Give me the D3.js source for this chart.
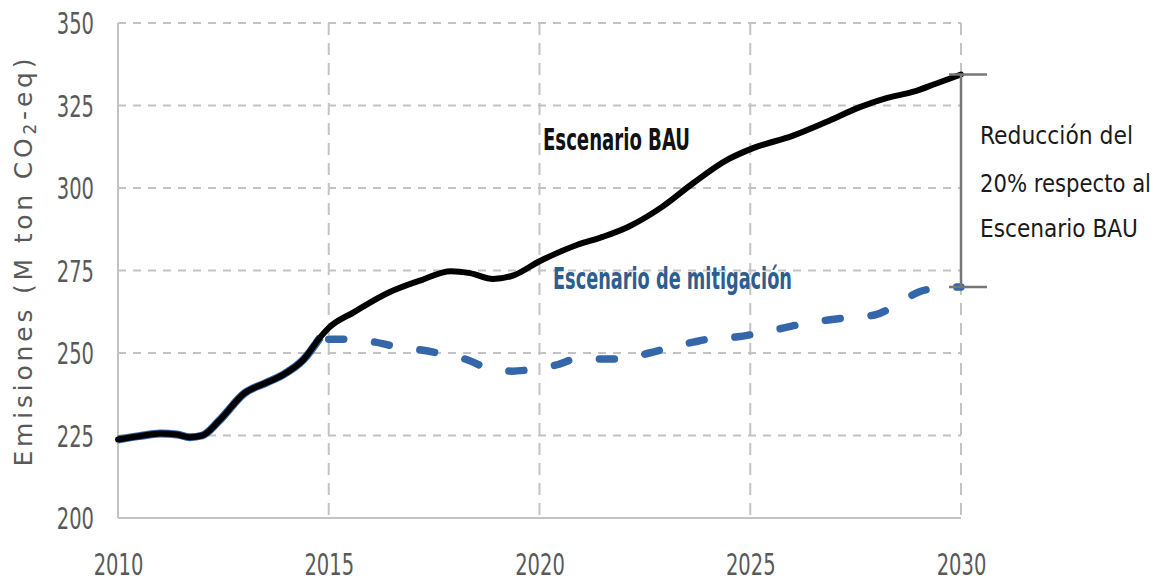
<!DOCTYPE html>
<meta charset="utf-8">
<script src="https://d3js.org/d3.v7.min.js"></script>
<title>Emisiones</title>
<style>
  body { margin: 0; background: white; }
  .narrow { font-family: "Liberation Sans Narrow", "Arial Narrow", "DejaVu Sans Condensed", sans-serif; }
  .grid line { stroke: #c3c3c3; stroke-width: 2; }
</style>
<body>
<div id="chart"></div>
<script>
// BAU scenario (M ton CO2-eq)
var bauYears  = [2010, 2010.5, 2011, 2011.4, 2011.7, 2012, 2012.4, 2013, 2013.5, 2013.9, 2014.4, 2014.8,
                 2015, 2015.6, 2016.4, 2017.2, 2017.9, 2018.35, 2018.9, 2019.4, 2020, 2020.9, 2021.5,
                 2022.1, 2022.9, 2023.65, 2024.45, 2025.05, 2026, 2026.8, 2027.6, 2028.25, 2028.85, 2029.4, 2030];
var bauValues = [223.8, 224.8, 225.6, 225.3, 224.5, 225.0, 229.5, 237.8, 240.9, 243.3, 248.0, 254.8,
                 257.6, 262.4, 268.2, 272.1, 274.8, 274.2, 272.4, 273.6, 277.8, 282.8, 285.2,
                 288.2, 294.2, 301.5, 308.5, 312.0, 315.8, 320.0, 324.5, 327.3, 329.1, 331.6, 334.4];

// mitigation scenario after it splits from BAU
var mitYears  = [2015, 2015.5, 2016.1, 2016.6, 2017.2, 2017.7, 2018.3, 2018.75, 2019.35, 2019.8, 2020.4,
                 2020.95, 2021.5, 2022, 2022.6, 2023.05, 2023.65, 2024.15, 2024.7, 2025.2, 2025.8, 2026.3,
                 2026.85, 2027.35, 2027.95, 2028.45, 2029, 2029.5, 2030];
var mitValues = [254.2, 254.2, 253.3, 251.9, 250.9, 249.7, 247.9, 245.5, 244.5, 245.0, 246.4,
                 248.4, 248.2, 248.2, 250.0, 251.5, 253.3, 254.5, 254.9, 256.0, 257.6, 259.0,
                 260.0, 260.8, 261.5, 264.5, 268.5, 269.7, 270.0];
var mitSplitYear = 2014.8;   // mitigation follows BAU up to here

var xTicks = [2010, 2015, 2020, 2025, 2030];
var yTicks = [200, 225, 250, 275, 300, 325, 350];

var annotationLines = ["Reducción del", "20% respecto al", "Escenario BAU"];

var W = 1167, H = 582;
var margin = {top: 23, right: 206, bottom: 64, left: 118},
    width = W - margin.left - margin.right,
    height = H - margin.top - margin.bottom;

var svg = d3.select("#chart").append("svg")
    .attr("width", W).attr("height", H)
  .append("g")
    .attr("transform", "translate(" + margin.left + "," + margin.top + ")");

var x = d3.scaleLinear().domain([2010, 2030]).range([0, width]);
var y = d3.scaleLinear().domain([200, 350]).range([height, 0]);

// gridlines
svg.append("g").attr("class", "grid")
  .selectAll("line").data(yTicks.slice(1)).enter().append("line")
    .attr("x1", 0).attr("x2", width)
    .attr("y1", function(d) { return y(d); }).attr("y2", function(d) { return y(d); })
    .attr("stroke-dasharray", "8,7");
svg.append("g").attr("class", "grid")
  .selectAll("line").data(xTicks.slice(1)).enter().append("line")
    .attr("y1", 0).attr("y2", height)
    .attr("x1", function(d) { return x(d); }).attr("x2", function(d) { return x(d); })
    .attr("stroke-dasharray", "12,8");

// axes
var xAxis = svg.append("g")
    .attr("transform", "translate(0," + height + ")")
    .call(d3.axisBottom(x).tickValues(xTicks).tickSize(0).tickFormat(d3.format("d")));
var yAxis = svg.append("g")
    .call(d3.axisLeft(y).tickValues(yTicks).tickSize(0));
[xAxis, yAxis].forEach(function(a) {
  a.select(".domain").attr("stroke", "#c3c3c3").attr("stroke-width", 2);
  a.selectAll("text")
    .attr("class", "narrow")
    .style("font-size", "30px")
    .attr("fill", "#595959")
    .attr("lengthAdjust", "spacingAndGlyphs")
    .attr("textLength", function(d) { return String(d).length * 12.4; });
});
yAxis.select(".domain").attr("d", "M0," + height + "V0");
xAxis.select(".domain").attr("d", "M0,0H" + width);
xAxis.selectAll("text").attr("y", 57).attr("dy", 0);
yAxis.selectAll("text").attr("x", -24).attr("dy", "0.36em");

// y title
svg.append("text")
    .attr("transform", "translate(" + (-86) + "," + (height / 2 - 8) + ") rotate(-90)")
    .attr("text-anchor", "middle")
    .style("font-family", "'DejaVu Sans', sans-serif")
    .style("font-size", "25px")
    .attr("fill", "#595959")
    .attr("textLength", 408)
    .attr("lengthAdjust", "spacing")
    .html("Emisiones (M ton CO<tspan baseline-shift='-25%' font-size='17px'>2</tspan>-eq)");

// lines
var line = d3.line()
    .x(function(d) { return x(d[0]); })
    .y(function(d) { return y(d[1]); })
    .curve(d3.curveMonotoneX);

var bau = bauYears.map(function(v, i) { return [v, bauValues[i]]; });
var mit = mitYears.map(function(v, i) { return [v, mitValues[i]]; });
var shared = bau.filter(function(d) { return d[0] <= mitSplitYear; });

svg.append("path").datum(shared)
    .attr("d", line).attr("fill", "none")
    .attr("stroke", "#3466aa").attr("stroke-width", 8);
svg.append("path").datum(mit)
    .attr("d", line).attr("fill", "none")
    .attr("stroke", "#3466aa").attr("stroke-width", 7.5)
    .attr("stroke-linecap", "round")
    .attr("stroke-dasharray", "15,31");
svg.append("path").datum(bau)
    .attr("d", line).attr("fill", "none")
    .attr("stroke", "#000").attr("stroke-width", 6)
    .attr("stroke-linecap", "round");

// series labels
svg.append("text").attr("class", "narrow")
    .attr("x", 543 - margin.left).attr("y", 150 - margin.top)
    .style("font-size", "31px").style("font-weight", "bold")
    .attr("fill", "#111")
    .attr("textLength", 147).attr("lengthAdjust", "spacingAndGlyphs")
    .text("Escenario BAU");
svg.append("text").attr("class", "narrow")
    .attr("x", 553 - margin.left).attr("y", 289 - margin.top)
    .style("font-size", "31px").style("font-weight", "bold")
    .attr("fill", "#2e5d90")
    .attr("textLength", 239).attr("lengthAdjust", "spacingAndGlyphs")
    .text("Escenario de mitigación");

// reduction bracket at 2030
var bau2030 = bauValues[bauValues.length - 1], mit2030 = mitValues[mitValues.length - 1];
var bx = x(2030);
var bracket = svg.append("g").attr("stroke", "#777").attr("stroke-width", 2.5);
bracket.append("line").attr("x1", bx).attr("x2", bx).attr("y1", y(bau2030)).attr("y2", y(mit2030));
[bau2030, mit2030].forEach(function(v) {
  bracket.append("line").attr("x1", bx - 12).attr("x2", bx + 26).attr("y1", y(v)).attr("y2", y(v));
});

var annWidths = [153, 171, 158];
var annBase = [144, 192, 237];
svg.selectAll(".ann").data(annotationLines).enter().append("text")
    .attr("class", "narrow ann")
    .attr("x", 980 - margin.left)
    .attr("y", function(d, i) { return annBase[i] - margin.top; })
    .style("font-size", "25px")
    .attr("fill", "#1a1a1a")
    .attr("textLength", function(d, i) { return annWidths[i]; })
    .attr("lengthAdjust", "spacingAndGlyphs")
    .text(function(d) { return d; });
</script>
</body>
